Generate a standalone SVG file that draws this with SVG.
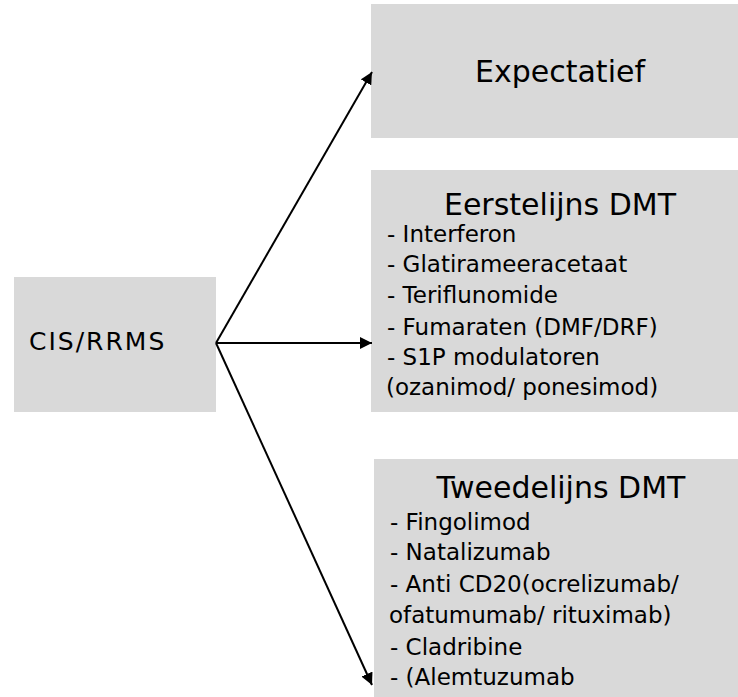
<svg xmlns="http://www.w3.org/2000/svg" width="738" height="697" viewBox="0 0 738 697">
<style>
.box{fill:#d9d9d9}
.t{font-family:"DejaVu Sans",Verdana,sans-serif;fill:#000}
.title{font-size:30px;text-anchor:middle}
.item{font-size:23px}
.con{stroke:#000;stroke-width:2;fill:none}
</style>
<defs>
<marker id="ah" markerUnits="userSpaceOnUse" markerWidth="12" markerHeight="12" viewBox="0 0 12 12" refX="12" refY="6" orient="auto">
<path d="M0,0 L12,6 L0,12 Z" fill="#000"/>
</marker>
</defs>
<rect width="738" height="697" fill="#fff"/>
<g id="cis">
<rect class="box" x="14" y="277" width="202" height="135"/>
<text class="t" x="29" y="350" font-size="25" letter-spacing="2">CIS/RRMS</text>
</g>
<g id="expectatief">
<rect class="box" x="371" y="4" width="367" height="134"/>
<text class="t title" x="560" y="82">Expectatief</text>
</g>
<g id="eerstelijns">
<rect class="box" x="371" y="170" width="367" height="242"/>
<text class="t title" x="560" y="215">Eerstelijns DMT</text>
<text class="t item" x="387" y="242">- Interferon</text>
<text class="t item" x="387" y="272">- Glatirameeracetaat</text>
<text class="t item" x="387" y="303">- Teriflunomide</text>
<text class="t item" x="387" y="335">- Fumaraten (DMF/DRF)</text>
<text class="t item" x="387" y="365">- S1P modulatoren</text>
<text class="t item" x="386" y="395">(ozanimod/ ponesimod)</text>
</g>
<g id="tweedelijns">
<rect class="box" x="374" y="459" width="364" height="238"/>
<text class="t title" x="561" y="498">Tweedelijns DMT</text>
<text class="t item" x="390" y="530">- Fingolimod</text>
<text class="t item" x="390" y="560">- Natalizumab</text>
<text class="t item" x="390" y="592">- Anti CD20(ocrelizumab/</text>
<text class="t item" x="389" y="623">ofatumumab/ rituximab)</text>
<text class="t item" x="390" y="655">- Cladribine</text>
<text class="t item" x="390" y="685">- (Alemtuzumab</text>
</g>
<g id="connectors">
<line class="con" x1="216" y1="343" x2="372" y2="72" marker-end="url(#ah)"/>
<line class="con" x1="216" y1="343" x2="372" y2="343" marker-end="url(#ah)"/>
<line class="con" x1="216" y1="343" x2="372" y2="685" marker-end="url(#ah)"/>
</g>
</svg>
